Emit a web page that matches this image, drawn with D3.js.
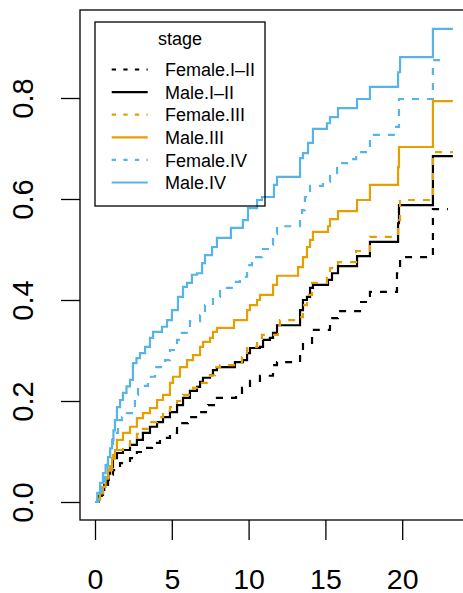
<!DOCTYPE html>
<html>
<head>
<meta charset="utf-8">
<script src="https://cdn.jsdelivr.net/npm/d3@7"></script>
<style>
  html, body { margin: 0; padding: 0; background: #fff; }
  svg { display: block; font-family: "Liberation Sans", Arial, Helvetica, sans-serif; }
</style>
</head>
<body>
<svg id="chart" width="463" height="593"></svg>
<script>
// ---- data ----
const seriesNames = ["Female.I\u2013II", "Male.I\u2013II", "Female.III", "Male.III", "Female.IV", "Male.IV"];
const seriesColors = ["#000000", "#000000", "#E69F00", "#E69F00", "#56B4E9", "#56B4E9"];
const seriesDashed = [true, false, true, false, true, false];
const legendTitle = "stage";

const femaleI_II_time = [0, 0.20, 0.36, 0.52, 0.69, 0.85, 1.01, 1.17, 1.63, 2.28, 2.73, 3.12, 3.71, 4.23, 4.88, 5.34, 5.53, 6.05, 6.84, 7.36, 7.94, 9.18, 9.57, 10.09, 10.74, 11.59, 11.85, 13.35, 13.54, 14.13, 15.30, 15.82, 17.25, 17.90, 19.66, 19.86, 22.0, 22.98];
const femaleI_II_cif  = [0, 0.004, 0.014, 0.024, 0.034, 0.044, 0.054, 0.063, 0.077, 0.087, 0.099, 0.107, 0.117, 0.127, 0.137, 0.150, 0.156, 0.168, 0.178, 0.192, 0.206, 0.216, 0.226, 0.240, 0.250, 0.271, 0.277, 0.295, 0.315, 0.341, 0.364, 0.378, 0.396, 0.416, 0.453, 0.485, 0.580, 0.580];

const maleI_II_time = [0, 0.22, 0.44, 0.60, 0.76, 0.87, 0.98, 1.17, 1.43, 1.82, 2.28, 2.73, 3.12, 3.58, 4.04, 4.43, 4.88, 5.34, 5.73, 6.18, 6.64, 6.84, 7.03, 7.49, 7.68, 7.94, 9.11, 9.63, 9.90, 10.09, 10.74, 10.94, 11.39, 11.59, 11.85, 13.35, 13.54, 13.80, 14.00, 14.19, 15.17, 15.43, 15.82, 17.06, 17.90, 19.73, 19.79, 22.0, 23.3];
const maleI_II_cif  = [0, 0.012, 0.024, 0.034, 0.044, 0.056, 0.069, 0.087, 0.097, 0.103, 0.113, 0.123, 0.137, 0.149, 0.158, 0.168, 0.178, 0.192, 0.206, 0.220, 0.228, 0.238, 0.246, 0.251, 0.261, 0.267, 0.277, 0.281, 0.295, 0.305, 0.307, 0.321, 0.325, 0.335, 0.350, 0.380, 0.400, 0.406, 0.424, 0.430, 0.440, 0.453, 0.467, 0.487, 0.515, 0.552, 0.588, 0.685, 0.685];

const femaleIII_time = [0, 0.17, 0.33, 0.49, 0.65, 0.81, 0.98, 1.17, 1.43, 1.82, 2.28, 2.73, 3.12, 3.58, 4.04, 4.43, 4.88, 5.34, 5.73, 6.38, 6.84, 7.49, 7.81, 8.14, 9.57, 9.90, 10.09, 10.55, 10.87, 11.91, 12.04, 13.22, 13.54, 13.80, 14.13, 15.10, 15.30, 15.82, 17.0, 17.90, 19.73, 19.86, 22.0, 23.3];
const femaleIII_cif  = [0, 0.010, 0.020, 0.034, 0.048, 0.062, 0.077, 0.093, 0.103, 0.111, 0.123, 0.135, 0.145, 0.158, 0.168, 0.178, 0.188, 0.200, 0.212, 0.226, 0.236, 0.251, 0.267, 0.271, 0.287, 0.305, 0.307, 0.323, 0.331, 0.350, 0.360, 0.366, 0.390, 0.410, 0.434, 0.450, 0.463, 0.475, 0.497, 0.525, 0.558, 0.598, 0.693, 0.693];

const maleIII_time = [0, 0.13, 0.33, 0.52, 0.69, 0.85, 1.11, 1.30, 1.43, 1.82, 2.28, 2.73, 3.12, 3.58, 4.04, 4.43, 4.88, 5.08, 5.53, 5.99, 6.38, 6.84, 7.03, 7.49, 7.68, 7.94, 9.05, 9.90, 10.09, 10.55, 10.74, 11.59, 11.85, 13.22, 13.54, 13.80, 14.00, 14.19, 15.17, 15.30, 15.82, 17.06, 17.90, 19.73, 19.79, 22.0, 23.3];
const maleIII_cif  = [0, 0.004, 0.017, 0.030, 0.046, 0.063, 0.087, 0.103, 0.123, 0.137, 0.149, 0.166, 0.176, 0.186, 0.202, 0.212, 0.236, 0.248, 0.267, 0.281, 0.291, 0.307, 0.317, 0.325, 0.337, 0.345, 0.360, 0.380, 0.390, 0.400, 0.410, 0.430, 0.448, 0.465, 0.485, 0.505, 0.519, 0.535, 0.546, 0.560, 0.576, 0.598, 0.628, 0.663, 0.703, 0.794, 0.794];

const femaleIV_time = [0, 0.20, 0.42, 0.65, 0.82, 0.98, 1.17, 1.50, 1.76, 2.08, 2.60, 2.80, 3.45, 3.91, 4.56, 4.88, 5.34, 5.66, 6.18, 6.84, 7.16, 7.68, 8.14, 8.98, 9.44, 9.90, 10.22, 10.87, 11.39, 11.59, 11.85, 13.35, 13.48, 13.67, 14.00, 14.84, 15.30, 15.76, 16.60, 17.0, 17.90, 19.60, 19.79, 22.0, 22.66];
const femaleIV_cif  = [0, 0.010, 0.030, 0.050, 0.080, 0.109, 0.137, 0.162, 0.168, 0.176, 0.212, 0.230, 0.248, 0.267, 0.281, 0.301, 0.321, 0.335, 0.358, 0.370, 0.390, 0.406, 0.424, 0.436, 0.446, 0.469, 0.485, 0.501, 0.509, 0.531, 0.546, 0.560, 0.578, 0.604, 0.626, 0.634, 0.651, 0.671, 0.679, 0.693, 0.727, 0.743, 0.798, 0.875, 0.875];

const maleIV_time = [0, 0.15, 0.33, 0.52, 0.69, 0.85, 0.98, 1.11, 1.20, 1.30, 1.43, 1.63, 1.82, 2.05, 2.28, 2.47, 2.70, 2.93, 3.26, 3.58, 3.78, 4.36, 4.69, 5.01, 5.40, 5.73, 5.99, 6.31, 6.64, 6.97, 7.16, 7.62, 7.94, 8.85, 9.63, 9.96, 10.55, 10.87, 11.65, 11.85, 13.35, 13.54, 13.87, 14.19, 15.10, 15.30, 15.82, 17.06, 17.90, 19.73, 19.86, 22.0, 23.3];
const maleIV_cif  = [0, 0.018, 0.038, 0.057, 0.073, 0.089, 0.106, 0.123, 0.142, 0.162, 0.188, 0.202, 0.216, 0.229, 0.242, 0.275, 0.285, 0.295, 0.307, 0.325, 0.337, 0.347, 0.360, 0.380, 0.406, 0.426, 0.434, 0.450, 0.453, 0.473, 0.489, 0.505, 0.523, 0.543, 0.558, 0.582, 0.598, 0.604, 0.628, 0.644, 0.681, 0.691, 0.711, 0.739, 0.750, 0.762, 0.780, 0.798, 0.822, 0.851, 0.881, 0.937, 0.937];

const xTicks = [0, 5, 10, 15, 20];
const yTicks = [0.0, 0.2, 0.4, 0.6, 0.8];

const seriesTimes = [femaleI_II_time, maleI_II_time, femaleIII_time, maleIII_time, femaleIV_time, maleIV_time];
const seriesCifs  = [femaleI_II_cif, maleI_II_cif, femaleIII_cif, maleIII_cif, femaleIV_cif, maleIV_cif];

// ---- drawing ----
const svg = d3.select("#chart");
const box = { left: 80, top: 10, right: 470, bottom: 520 };

const x = d3.scaleLinear().domain([0, 20]).range([95, 402.2]);
const y = d3.scaleLinear().domain([0, 0.8]).range([502, 98]);

svg.append("defs").append("clipPath").attr("id", "plotclip")
  .append("rect").attr("x", box.left).attr("y", box.top)
  .attr("width", box.right - box.left).attr("height", box.bottom - box.top);

// curves
const line = d3.line().x(d => x(d[0])).y(d => y(d[1])).curve(d3.curveStepAfter);
const g = svg.append("g").attr("clip-path", "url(#plotclip)");
seriesNames.forEach((name, i) => {
  const pts = seriesTimes[i].map((t, k) => [t, seriesCifs[i][k]]);
  g.append("path")
    .attr("d", line(pts))
    .attr("fill", "none")
    .attr("stroke", seriesColors[i])
    .attr("stroke-width", 2.2)
    .attr("stroke-dasharray", seriesDashed[i] ? "7,8" : null);
});

// frame
svg.append("rect")
  .attr("x", box.left).attr("y", box.top)
  .attr("width", box.right - box.left).attr("height", box.bottom - box.top)
  .attr("fill", "none").attr("stroke", "#000").attr("stroke-width", 1.3);

// x axis
const xAxis = d3.axisBottom(x).tickValues(xTicks).tickSize(20).tickFormat(d3.format("d"));
const gx = svg.append("g").attr("transform", `translate(0,${box.bottom})`).call(xAxis);
gx.select(".domain").remove();
gx.selectAll(".tick line").attr("stroke", "#000").attr("stroke-width", 1.3);
gx.selectAll(".tick text").attr("font-size", 28.5).attr("fill", "#000")
  .attr("font-family", "'Liberation Sans', Arial, sans-serif")
  .attr("dy", null).attr("y", 68.5);

// y axis
const yAxis = d3.axisLeft(y).tickValues(yTicks).tickSize(19).tickFormat(d3.format(".1f"));
const gy = svg.append("g").attr("transform", `translate(${box.left},0)`).call(yAxis);
gy.select(".domain").remove();
gy.selectAll(".tick line").attr("stroke", "#000").attr("stroke-width", 1.3);
gy.selectAll(".tick text")
  .attr("font-size", 29).attr("fill", "#000")
  .attr("font-family", "'Liberation Sans', Arial, sans-serif")
  .attr("x", null).attr("dy", null)
  .attr("text-anchor", "middle")
  .attr("transform", "translate(-47,0) rotate(-90)");

// legend
const lg = svg.append("g");
lg.append("rect").attr("x", 95).attr("y", 22).attr("width", 170).attr("height", 184)
  .attr("fill", "none").attr("stroke", "#000").attr("stroke-width", 1.3);
lg.append("text").attr("x", 180).attr("y", 45).attr("text-anchor", "middle")
  .attr("font-size", 18).attr("fill", "#000").text(legendTitle);
seriesNames.forEach((name, i) => {
  const yy = 69.5 + i * 22.6;
  lg.append("line").attr("x1", 111.7).attr("x2", 147.7).attr("y1", yy).attr("y2", yy)
    .attr("stroke", seriesColors[i]).attr("stroke-width", 2.2)
    .attr("stroke-dasharray", seriesDashed[i] ? "4.3,7.3" : null);
  lg.append("text").attr("x", 165).attr("y", yy + 6.6)
    .attr("font-size", 18).attr("fill", "#000").text(name);
});
</script>
</body>
</html>
